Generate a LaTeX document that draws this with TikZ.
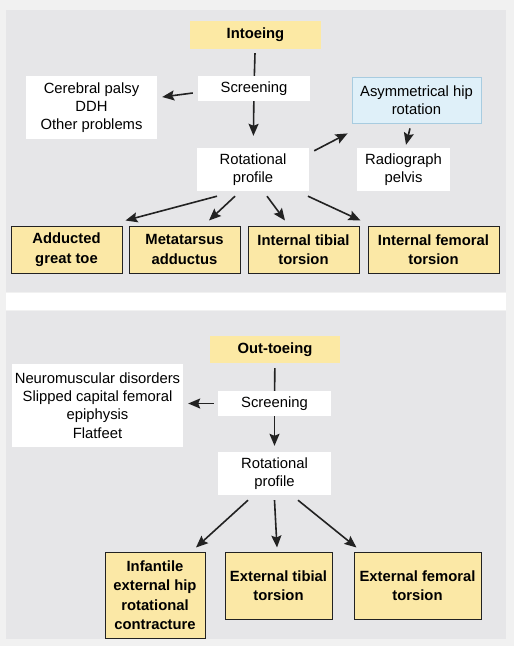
\documentclass[tikz,border=0pt]{standalone}
\usepackage{fontspec}
\setmainfont{Liberation Sans}
\usepackage{tikz}
\usetikzlibrary{arrows.meta}
\definecolor{pagebg}{HTML}{F1F1F1}
\definecolor{panelbg}{HTML}{E6E6E8}
\definecolor{hdrfill}{HTML}{FCE9A4}
\definecolor{leaffill}{HTML}{FBE8A6}
\definecolor{blufill}{HTML}{DFF0F9}
\definecolor{bluline}{HTML}{A8CCE0}
\definecolor{ink}{HTML}{222222}

\begin{document}
\begin{tikzpicture}[
  x=1pt, y=-1pt,
  font=\fontsize{14.8}{18.2}\selectfont,
  w/.style={fill=white, align=center, inner sep=0pt},
  hdr/.style={fill=hdrfill, align=center, inner sep=0pt, font=\fontsize{14.8}{18.2}\selectfont\bfseries},
  leaf/.style={draw=ink, line width=1pt, fill=leaffill, align=center, inner sep=0pt, font=\fontsize{14.8}{19.5}\selectfont\bfseries},
  blu/.style={draw=bluline, line width=0.8pt, fill=blufill, align=center, inner sep=0pt},
  pf/.style={-{Stealth[length=12pt,width=10pt,inset=2pt]}, line width=1.6pt, draw=ink},
  ln/.style={line width=1.6pt, draw=ink}
]
\useasboundingbox (0,0) rectangle (514,646);
\fill[pagebg] (0,0) rectangle (514,646);
\fill[panelbg] (6,10) rectangle (506,292);
\fill[white] (6,293) rectangle (506,310);
\fill[panelbg] (6,311) rectangle (506,639);

\node[hdr, minimum width=131pt, minimum height=28pt] (into) at (255.5,35) {Intoeing};
\node[w, minimum width=112pt, minimum height=25pt] (scr1) at (254,88.5) {Screening};
\node[w, minimum width=131pt, minimum height=63pt] (cp) at (91.5,107.5) {Cerebral palsy\\DDH\\Other problems};
\node[blu, minimum width=129pt, minimum height=46pt] (asym) at (416.5,100) {Asymmetrical hip\\rotation};
\node[w, minimum width=112pt, minimum height=43pt] (rot1) at (253,169.5) {Rotational\\profile};
\node[w, minimum width=93pt, minimum height=43pt] (rad) at (403.5,169.5) {Radiograph\\pelvis};
\node[leaf, minimum width=111pt, minimum height=47pt] (add) at (66.5,249.5) {Adducted\\great toe};
\node[leaf, minimum width=111pt, minimum height=47pt] (meta) at (184.5,249.5) {Metatarsus\\adductus};
\node[leaf, minimum width=111pt, minimum height=47pt] (itt) at (303.5,249.5) {Internal tibial\\torsion};
\node[leaf, minimum width=131pt, minimum height=47pt] (ift) at (433.5,249.5) {Internal femoral\\torsion};

\node[hdr, minimum width=130pt, minimum height=27pt] (out) at (275,349.5) {Out-toeing};
\node[w, minimum width=113pt, minimum height=25pt] (scr2) at (274.5,403.5) {Screening};
\node[w, minimum width=171pt, minimum height=83pt] (neu) at (97.5,405.5) {Neuromuscular disorders\\Slipped capital femoral\\epiphysis\\Flatfeet};
\node[w, minimum width=113pt, minimum height=43pt] (rot2) at (274.5,473.5) {Rotational\\profile};
\node[leaf, minimum width=100pt, minimum height=86pt] (inf) at (155,595) {Infantile\\external hip\\rotational\\contracture};
\node[leaf, minimum width=107pt, minimum height=67pt] (ett) at (278.5,585.5) {External tibial\\torsion};
\node[leaf, minimum width=127pt, minimum height=67pt] (eft) at (417.5,585.5) {External femoral\\torsion};

\draw[ln, shorten <=4pt] (into) -- (scr1);
\draw[pf, shorten >=12pt] (scr1) -- (rot1);
\draw[pf] ([xshift=-5pt,yshift=-4.5pt]scr1.west) -- ([xshift=5pt,yshift=10.5pt]cp.east);
\draw[pf] ([xshift=5pt,yshift=-3pt]rot1.north east) -- ([xshift=-4pt,yshift=-10pt]asym.south west);
\draw[pf] ([xshift=-6.5pt,yshift=-5pt]asym.south) -- ([xshift=2.5pt,yshift=3pt]rad.north);
\draw[pf] ([xshift=-36pt,yshift=-5pt]rot1.south) -- ([xshift=3pt,yshift=5pt]add.north east);
\draw[pf] ([xshift=-18pt,yshift=-5pt]rot1.south) -- ([xshift=24.5pt,yshift=5pt]meta.north);
\draw[pf] ([xshift=14pt,yshift=-5pt]rot1.south) -- ([xshift=-18.5pt,yshift=5pt]itt.north);
\draw[pf] ([xshift=55pt,yshift=-5pt]rot1.south) -- ([xshift=-7pt,yshift=5pt]ift.north west);

\draw[ln, shorten <=5pt] (out) -- (scr2);
\draw[pf, shorten >=6pt] (scr2) -- (rot2);
\draw[pf, shorten <=4pt, shorten >=5pt] (scr2.west) -- (scr2.west -| neu.east);
\draw[pf] ([xshift=-26.5pt,yshift=-5pt]rot2.south) -- ([xshift=41pt,yshift=4pt]inf.north);
\draw[pf] ([yshift=-5pt]rot2.south) -- ([xshift=-1.5pt,yshift=4pt]ett.north);
\draw[pf] ([xshift=23.5pt,yshift=-5pt]rot2.south) -- ([xshift=3pt,yshift=4pt]eft.north west);
\end{tikzpicture}
\end{document}
